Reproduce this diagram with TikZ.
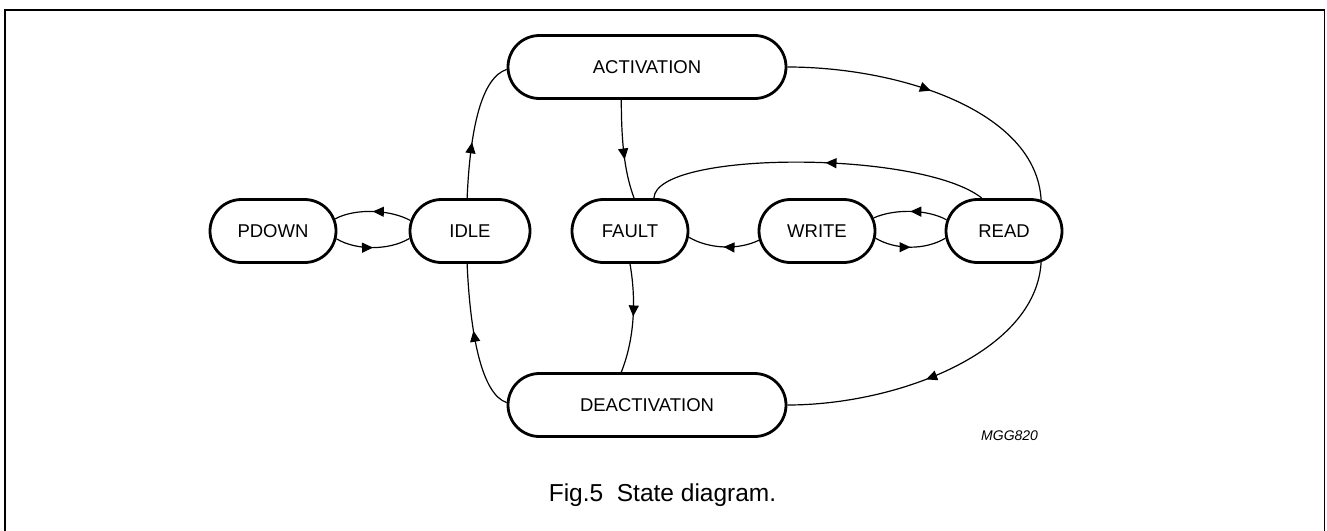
\documentclass[tikz,border=0pt]{standalone}
\usepackage{fontspec}
\setmainfont{Liberation Sans}
\usetikzlibrary{shapes.misc,arrows.meta,decorations.markings}
\begin{document}
\begin{tikzpicture}[x=1pt,y=-1pt,
  st/.style={rounded rectangle, draw, line width=2.8pt, minimum height=63pt, inner sep=0pt,
             font=\fontsize{18.5}{20}\selectfont},
  conn/.style={line width=1.2pt},
  mid/.style={postaction={decorate,decoration={markings,
      mark=at position #1 with {\arrow{Triangle[length=11pt,width=10pt]}}}}},
]
\useasboundingbox (0,0) rectangle (1327,530);
\draw[line width=1.8pt] (5,531) -- (5,10) -- (1324.5,10) -- (1324.5,531);

\node[st, minimum width=126pt] (pdown) at (273,231) {PDOWN};
\node[st, minimum width=120pt] (idle)  at (470,231) {IDLE};
\node[st, minimum width=116pt] (fault) at (630,231) {FAULT};
\node[st, minimum width=116pt] (write) at (817,231) {WRITE};
\node[st, minimum width=116pt] (read)  at (1004,231) {READ};
\node[st, minimum width=278pt] (act)   at (647,67) {ACTIVATION};
\node[st, minimum width=278pt] (deact) at (647,405) {DEACTIVATION};

\draw[conn,mid=0.5] (idle.170) .. controls +(-20,-11) and +(20,-11) .. (pdown.11);
\draw[conn,mid=0.5] (pdown.-7) .. controls +(20,12) and +(-20,12) .. (idle.187);
\draw[conn,mid=0.4] (idle.95) .. controls +(3,-70) and +(-25,8) .. (act.181);
\draw[conn,mid=0.55] (deact.179) .. controls +(-25,-8) and +(3,70) .. (idle.265);
\draw[conn,mid=0.6] (act.232) .. controls +(0,50) and +(-8,-22) .. (fault.83);
\draw[conn,mid=0.48] (fault.270) .. controls +(7,40) and +(12,-30) .. (deact.128);
\draw[conn,mid=0.47] (read.124) .. controls +(-60,-48) and +(2,-48) .. (fault.54);
\draw[conn,mid=0.47] (act.east) .. controls +(110,0) and +(-5,-90) .. (read.40);
\draw[conn,mid=0.55] (read.-40) .. controls +(-5,90) and +(110,0) .. (deact.east);
\draw[conn,mid=0.5] (read.169) .. controls +(-20,-11) and +(20,-9) .. (write.13);
\draw[conn,mid=0.5] (write.-7) .. controls +(20,12) and +(-20,12) .. (read.187);
\draw[conn,mid=0.5] (write.189) .. controls +(-20,10) and +(20,12) .. (fault.-6);

\node[font=\fontsize{14}{16}\selectfont\itshape, anchor=base west, inner sep=0pt] (code) at (981,440) {MGG820};
\node[font=\fontsize{24.5}{28}\selectfont, anchor=base, inner sep=0pt] (cap) at (662.5,501) {Fig.5\ \ State diagram.};
\end{tikzpicture}
\end{document}
